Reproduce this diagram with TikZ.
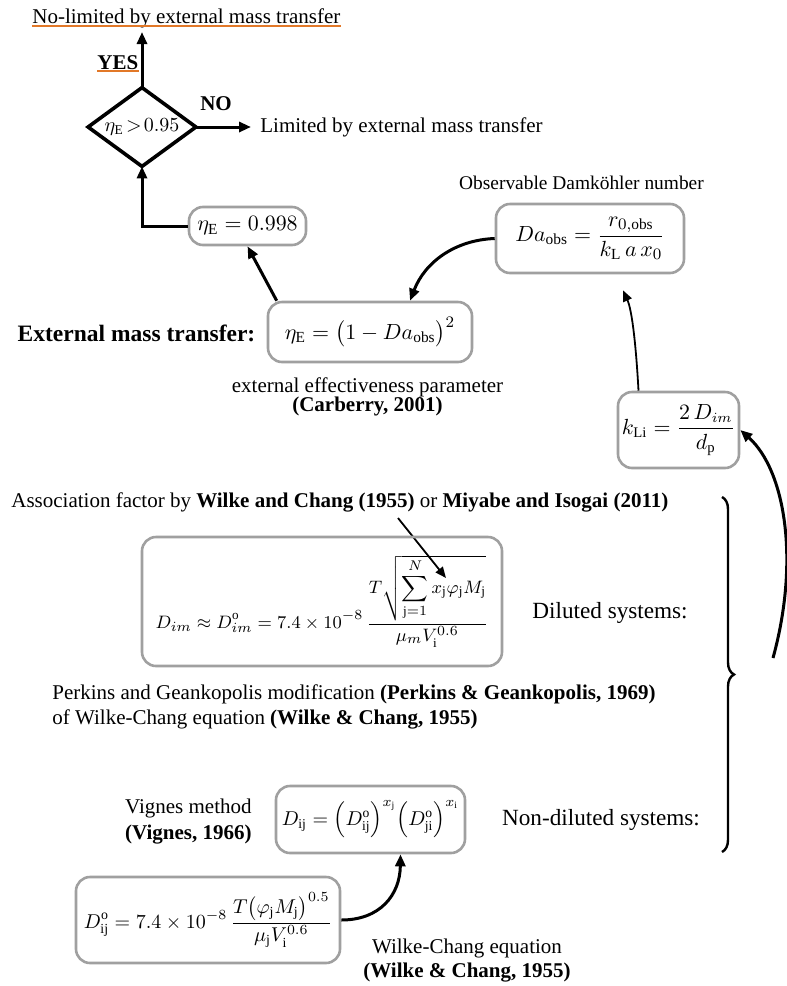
\documentclass[tikz,border=0pt]{standalone}
\usepackage{amsmath}
\usepackage{fontspec}
\setmainfont{Liberation Serif}
\usetikzlibrary{arrows.meta,decorations.pathreplacing,calc}
\definecolor{boxgray}{RGB}{160,160,160}
\definecolor{uline}{RGB}{226,120,40}
\tikzset{
 txt/.style={font=\fontsize{10.5}{12.6}\selectfont, inner sep=0pt},
 btxt/.style={inner sep=0pt, font=\fontsize{10.5}{12.6}\selectfont\bfseries},
 eqbox/.style={draw=boxgray, line width=1.3pt, rounded corners=7pt, inner sep=0pt, font=\fontsize{11}{13}\selectfont},
 thickarr/.style={line width=1.5pt, -{Triangle[length=6pt,width=5pt]}},
 thinarr/.style={line width=0.9pt, -{Triangle[length=5.5pt,width=4.5pt]}},
 ulinestyle/.style={draw=uline, line width=0.8pt},
}
\begin{document}
\begin{tikzpicture}[x=0.5pt,y=-0.5pt]
\useasboundingbox (0,0) rectangle (787,986);

% top decision
\node[txt, anchor=base west] (title) at (32,23) {No-limited by external mass transfer};
\draw[ulinestyle] ($(title.base west)+(0,3)$) -- ($(title.base east)+(0,3)$);

\node[minimum width=53.5pt, minimum height=39pt, inner sep=0pt, font=\fontsize{9.6}{11}\selectfont] (dec) at (142,127) {$\eta_{\mathrm{E}}\! >\! 0.95$};
\draw[line width=1.8pt, line join=miter] (dec.north) -- (dec.east) -- (dec.south) -- (dec.west) -- cycle;

\coordinate (yesend) at (142,32);
\draw[thickarr] (dec.north) -- (yesend);
\node[btxt, anchor=base west] (yes) at (97,69) {YES};
\draw[ulinestyle] ($(yes.base west)+(0,2)$) -- ($(yes.base east)+(0,2)$);
\node[btxt] (no) at (216,104) {NO};

\node[txt, anchor=west] (lim) at (260,127) {Limited by external mass transfer};
\draw[thickarr] (dec.east) -- ($(lim.west)+(-9,0)$);

% eta 0.998
\node[eqbox, minimum width=58.5pt, minimum height=19pt] (b998) at (247.5,226) {$\eta_{\mathrm{E}} = 0.998$};
\draw[thickarr] (b998.west) -| (dec.south);

% external mass transfer
\node[eqbox, minimum width=102pt, minimum height=30pt] (eta) at (370,332) {$\eta_{\mathrm{E}} = \bigl(1 - Da_{\mathrm{obs}}\bigr)^{2}$};
\node[inner sep=0pt, font=\fontsize{11.75}{14}\selectfont\bfseries] (emt) at (136.5,333) {External mass transfer:};
\draw[thickarr] ($(eta.north west)+(10,0)$) -- (b998.south);
\node[txt] (eep) at (367.5,387) {external effectiveness parameter};
\node[btxt] (carb) at (367.5,406) {(Carberry, 2001)};

% Damkohler
\node[eqbox, minimum width=94pt, minimum height=34.5pt] (da) at (590,238.5) {$\displaystyle Da_{\mathrm{obs}} = \frac{r_{0,\mathrm{obs}}}{k_{\mathrm{L}}\,a\,x_{0}}$};
\node[inner sep=0pt, font=\fontsize{9.7}{11}\selectfont] (obs) at (581.5,183) {Observable Damköhler number};
\draw[thickarr] (da.west) .. controls (455,240) and (425,262) .. ($(eta.north)+(40,0)$);

% kLi
\node[eqbox, minimum width=60.5pt, minimum height=38pt, font=\fontsize{10.5}{12.6}\selectfont] (kli) at (678.5,430) {$\displaystyle k_{\mathrm{Li}} = \frac{2\,D_{im}}{d_{\mathrm{p}}}$};
\draw[thinarr] ($(kli.north)+(-40,0)$) .. controls (636,345) and (632,310) .. ($(da.south)+(33,16)$);

% association
\node[txt, anchor=west] (assoc) at (11,502) {Association factor by \textbf{Wilke and Chang (1955)} or \textbf{Miyabe and Isogai (2011)}};
\coordinate (assocA) at (398,518);
\coordinate (assocB) at (446,578);
\draw[thinarr] (assocA) -- (assocB);

\node[eqbox, minimum width=180pt, minimum height=64.5pt, font=\fontsize{9.4}{11}\selectfont] (dim) at (322,601.5) {$\displaystyle D_{im} \approx D^{\mathrm{o}}_{im} = 7.4\times10^{-8}\,\frac{T\sqrt{\displaystyle\sum_{\mathrm{j}=1}^{N} x_{\mathrm{j}}\varphi_{\mathrm{j}}M_{\mathrm{j}}}}{\mu_m V_{\mathrm{i}}^{0.6}}$};
\node[inner sep=0pt, font=\fontsize{11.6}{14}\selectfont] (dil) at (610,613) {Diluted systems:};

\node[txt, anchor=base west] (perk1) at (52,699) {Perkins and Geankopolis modification \textbf{(Perkins \& Geankopolis, 1969)}};
\node[txt, anchor=base west] (perk2) at (52,724) {of Wilke-Chang equation \textbf{(Wilke \& Chang, 1955)}};

% brace and big arrow
\coordinate (brtop) at (722,497);
\coordinate (brbot) at (722,852);
\draw[line width=1.2pt, decorate, decoration={brace, amplitude=6pt}] (brtop) -- (brbot);
\coordinate (bigstart) at (773,658);
\draw[thickarr] (bigstart) .. controls (800,560) and (785,470) .. (kli.east);

% non-diluted
\node[eqbox, minimum width=94.5pt, minimum height=33.5pt, font=\fontsize{9.7}{11.5}\selectfont] (dij) at (370.5,819.5) {$D_{\mathrm{ij}} = \Bigl(D^{\mathrm{o}}_{\mathrm{ij}}\Bigr)^{x_{\mathrm{j}}}\Bigl(D^{\mathrm{o}}_{\mathrm{ji}}\Bigr)^{x_{\mathrm{i}}}$};
\node[txt, anchor=east] (vig1) at (252,808) {Vignes method};
\node[btxt, anchor=east] (vig2) at (252,835) {(Vignes, 1966)};
\node[inner sep=0pt, font=\fontsize{11.6}{14}\selectfont] (ndil) at (601,820) {Non-diluted systems:};

\node[eqbox, minimum width=132pt, minimum height=43pt, font=\fontsize{9.9}{11.5}\selectfont] (dijo) at (208,920) {$\displaystyle D^{\mathrm{o}}_{\mathrm{ij}} = 7.4\times10^{-8}\,\frac{T\bigl(\varphi_{\mathrm{j}}M_{\mathrm{j}}\bigr)^{0.5}}{\mu_{\mathrm{j}}V_{\mathrm{i}}^{0.6}}$};
\draw[thickarr] (dijo.east) .. controls (380,920) and (400,895) .. ($(dij.south)+(30,0)$);
\node[txt] (wc1) at (467,948) {Wilke-Chang equation};
\node[btxt] (wc2) at (467,973) {(Wilke \& Chang, 1955)};
\end{tikzpicture}
\end{document}
